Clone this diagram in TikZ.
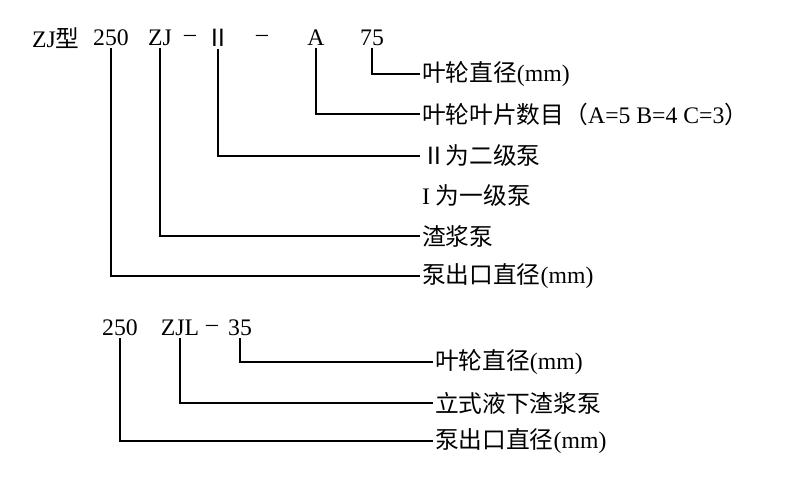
\documentclass[tikz,border=0pt]{standalone}
\usepackage{fontspec}
\setmainfont{Liberation Serif}
\newfontfamily\cjk{Noto Sans CJK SC}
\begin{document}
\begin{tikzpicture}[x=0.02cm,y=-0.02cm,
  lab/.style={font=\fontsize{13.5}{15}\selectfont, inner sep=1pt},
  tx/.style={lab,anchor=west},
  ln/.style={line width=0.8pt}]
\useasboundingbox (0,0) rectangle (800,492);
\node[lab,anchor=west] (zj0) at (30,38) {ZJ{\cjk 型}};
\node[lab] (a250) at (111,38) {250};
\node[lab] (azj) at (160,38) {ZJ};
\node[lab] at (190,38) {–};
\node[lab] (aii) at (218,38) {\cjk Ⅱ};
\node[lab] at (262,38) {–};
\node[lab] (aA) at (316,38) {A};
\node[lab] (a75) at (372,38) {75};
\node[tx] (t1) at (420,74) {\cjk 叶轮直径{\rmfamily (mm)}};
\node[tx] (t2) at (420,114) {{\cjk 叶轮叶片数目（}A=5 B=4 C=3{\cjk ）}};
\node[tx] (t3) at (420,156) {\cjk Ⅱ为二级泵};
\node[tx] (t4) at (420,196) {I {\cjk 为一级泵}};
\node[tx] (t5) at (420,236) {\cjk 渣浆泵};
\node[tx] (t6) at (420,276) {{\cjk 泵出口直径}(mm)};
\draw[ln] (a75.south) |- (t1.west);
\draw[ln] (aA.south) |- (t2.west);
\draw[ln] (aii.south) |- (t3.west);
\draw[ln] (azj.south) |- (t5.west);
\draw[ln] (a250.south) |- (t6.west);
\node[lab] (b250) at (120,328) {250};
\node[lab] (bzjl) at (180,328) {ZJL};
\node[lab] at (212,328) {–};
\node[lab] (b35) at (240,328) {35};
\node[tx] (u1) at (433,362) {{\cjk 叶轮直径}(mm)};
\node[tx] (u2) at (433,403) {\cjk 立式液下渣浆泵};
\node[tx] (u3) at (433,441) {{\cjk 泵出口直径}(mm)};
\draw[ln] (b35.south) |- (u1.west);
\draw[ln] (bzjl.south) |- (u2.west);
\draw[ln] (b250.south) |- (u3.west);
\end{tikzpicture}
\end{document}
